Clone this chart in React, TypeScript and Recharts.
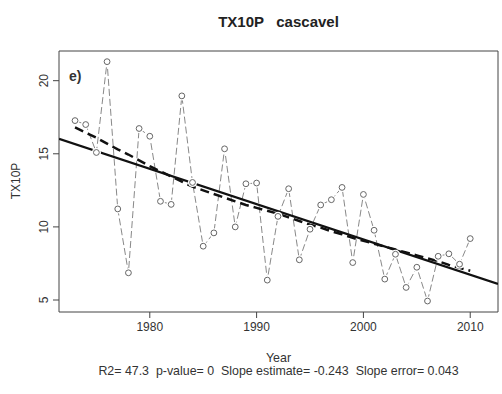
import { ComposedChart, Line, XAxis, YAxis, ReferenceArea } from "recharts";

// TX10P cascavel, yearly values
const years = [
  1973, 1974, 1975, 1976, 1977, 1978, 1979, 1980, 1981, 1982,
  1983, 1984, 1985, 1986, 1987, 1988, 1989, 1990, 1991, 1992,
  1993, 1994, 1995, 1996, 1997, 1998, 1999, 2000, 2001, 2002,
  2003, 2004, 2005, 2006, 2007, 2008, 2009, 2010,
];
const tx10p = [
  17.27, 17.0, 15.09, 21.3, 11.23, 6.86, 16.73, 16.2, 11.75, 11.54,
  18.96, 13.04, 8.68, 9.59, 15.34, 10.0, 12.95, 13.0, 6.36, 10.72,
  12.61, 7.75, 9.84, 11.5, 11.86, 12.7, 7.56, 12.22, 9.77, 6.43,
  8.13, 5.86, 7.24, 4.93, 7.99, 8.16, 7.45, 9.2,
];
// dashed smooth curve
const smooth = [
  16.8, 16.45, 16.1, 15.7, 15.3, 14.95, 14.55, 14.15, 13.8, 13.45,
  13.1, 12.75, 12.5, 12.25, 12.0, 11.75, 11.5, 11.3, 11.1, 10.9,
  10.65, 10.4, 10.15, 9.95, 9.7, 9.5, 9.25, 9.05, 8.85, 8.65,
  8.45, 8.25, 8.05, 7.85, 7.65, 7.4, 7.2, 7.0,
];
// solid regression line, endpoints at the plot edges
const trendYears = [1971.5, 2012.6];
const trendValues = [16.02, 6.1];

const xTicks = [1980, 1990, 2000, 2010];
const yTicks = [5, 10, 15, 20];
const xDomain = [1971.5, 2012.6];
const yDomain = [4.18, 22.03];

const data = years.map((year, i) => ({ year, tx: tx10p[i], smooth: smooth[i] }));
const trendData = trendYears.map((year, i) => ({ year, trend: trendValues[i] }));

const FONT = "'Liberation Sans', Arial, sans-serif";

// eslint-disable-next-line @typescript-eslint/no-explicit-any
const YTick = (props: any) => {
  const { x, y, payload } = props;
  return (
    <text x={x} y={y} transform={`rotate(-90, ${x}, ${y})`} textAnchor="middle"
      fontSize={12} fill="#333" fontFamily={FONT}>
      {payload.value}
    </text>
  );
};

// eslint-disable-next-line @typescript-eslint/no-explicit-any
const OpenDot = (props: any) => {
  const { cx, cy, index } = props;
  if (cx == null || cy == null) return <g key={index} />;
  return (
    <g key={index}>
      <circle cx={cx} cy={cy} r={4.6} fill="#fff" />
      <circle cx={cx} cy={cy} r={2.9} fill="#fff" stroke="#666" strokeWidth={1} />
    </g>
  );
};

export default function App() {
  return (
    <div style={{ position: "absolute", left: 0, top: 0, width: 502, height: 394, background: "#fff", fontFamily: FONT }}>
      <ComposedChart width={502} height={394} margin={{ top: 51, right: 4, left: 0, bottom: 0 }}>
        <XAxis type="number" dataKey="year" domain={xDomain} ticks={xTicks} allowDataOverflow
          height={82} tickSize={6} tickMargin={4} axisLine={false} tickLine={{ stroke: "#444" }}
          tick={{ fontSize: 12, fill: "#333", fontFamily: FONT }} />
        <YAxis type="number" domain={yDomain} ticks={yTicks} allowDataOverflow
          width={59} tickSize={6} tickMargin={5} axisLine={false} tickLine={{ stroke: "#444" }}
          tick={<YTick />} />
        <ReferenceArea x1={xDomain[0]} x2={xDomain[1]} y1={yDomain[0]} y2={yDomain[1]}
          fill="none" stroke="#444" strokeWidth={1} ifOverflow="visible" />
        <Line data={data} dataKey="tx" stroke="#7a7a7a" strokeWidth={0.9} strokeDasharray="7 3"
          dot={<OpenDot />} activeDot={false} isAnimationActive={false} />
        <Line data={data} dataKey="smooth" stroke="#111" strokeWidth={2.5} strokeDasharray="9 5"
          dot={false} activeDot={false} isAnimationActive={false} />
        <Line data={trendData} dataKey="trend" stroke="#111" strokeWidth={2.3}
          dot={false} activeDot={false} isAnimationActive={false} />
      </ComposedChart>
      <svg width={502} height={394} style={{ position: "absolute", left: 0, top: 0, pointerEvents: "none" }}>
        <text x={278.5} y={27} textAnchor="middle" fontSize={15} fontWeight="bold" fill="#222"
          fontFamily={FONT} style={{ whiteSpace: "pre" }}>
          {"TX10P   cascavel"}
        </text>
        <text x={69} y={81} fontSize={14} fontWeight="bold" fill="#333" fontFamily={FONT}>e)</text>
        <text x={20} y={181} transform="rotate(-90, 20, 181)" textAnchor="middle" fontSize={12}
          fill="#333" fontFamily={FONT}>TX10P</text>
        <text x={278.5} y={362} textAnchor="middle" fontSize={12.4} fill="#333" fontFamily={FONT}>Year</text>
        <text x={278.5} y={375} textAnchor="middle" fontSize={12.4} fill="#333" fontFamily={FONT}
          style={{ whiteSpace: "pre" }}>
          {"R2= 47.3  p-value= 0  Slope estimate= -0.243  Slope error= 0.043"}
        </text>
      </svg>
    </div>
  );
}
